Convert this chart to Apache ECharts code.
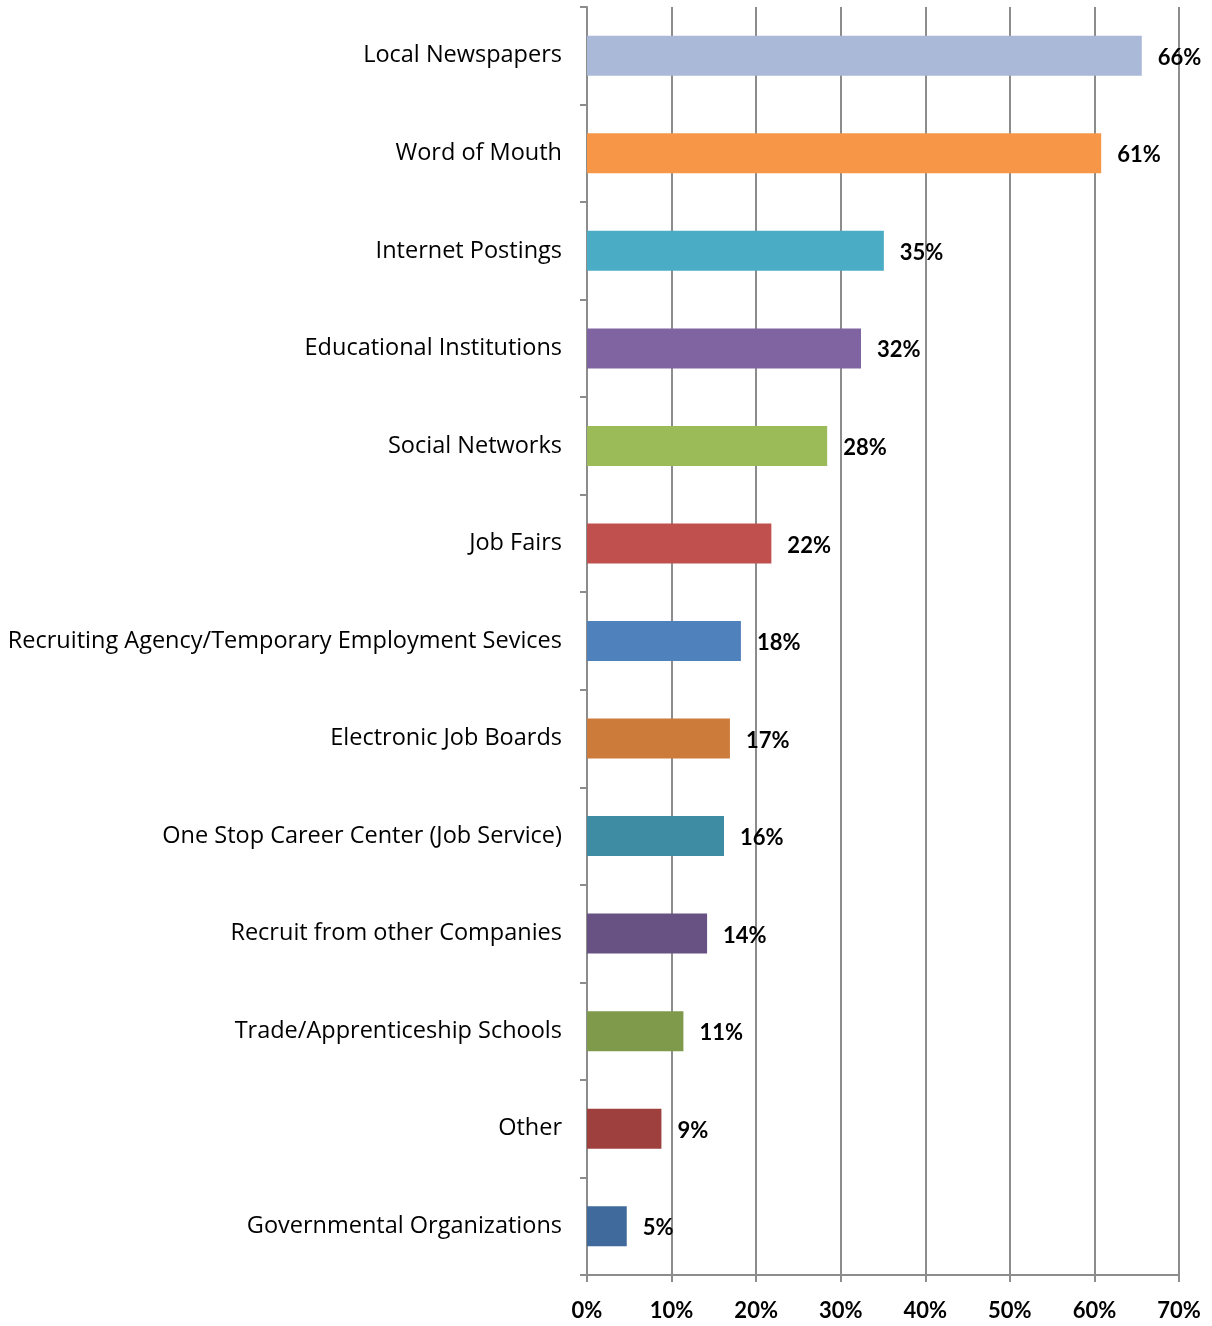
<!DOCTYPE html>
<html>
<head>
<meta charset="utf-8">
<script src="https://cdn.jsdelivr.net/npm/echarts@6/dist/echarts.min.js"></script>
<style>
html,body{margin:0;padding:0;background:#fff;}
#chart{width:1212px;height:1326px;}
</style>
</head>
<body>
<div id="chart"></div>
<script>
const categories = [
  "Local Newspapers",
  "Word of Mouth",
  "Internet Postings",
  "Educational Institutions",
  "Social Networks",
  "Job Fairs",
  "Recruiting Agency/Temporary Employment Sevices",
  "Electronic Job Boards",
  "One Stop Career Center (Job Service)",
  "Recruit from other Companies",
  "Trade/Apprenticeship Schools",
  "Other",
  "Governmental Organizations"
];
const values = [65.6, 60.8, 35.1, 32.4, 28.4, 21.8, 18.2, 16.9, 16.2, 14.2, 11.4, 8.8, 4.7];
const tickLabels = ["0%", "10%", "20%", "30%", "40%", "50%", "60%", "70%"];
const barColors = ["#AAB9D7", "#F79646", "#4BACC6", "#8064A2", "#9BBB59", "#C0504D", "#4F81BD",
                   "#CD7B3A", "#3D8CA3", "#685284", "#7F9A4B", "#9E413E", "#406A9B"];

const FONT = "Lato";
const CAT_FONT = "Open Sans";
const chart = echarts.init(document.getElementById('chart'), null, {renderer: 'canvas'});
chart.setOption({
  animation: false,
  backgroundColor: '#ffffff',
  grid: {left: 587, right: 33, top: 7, bottom: 51, containLabel: false},
  xAxis: {
    type: 'value', min: 0, max: 70, interval: 10,
    axisLine: {show: true, lineStyle: {color: '#8C8C8C', width: 2}},
    axisTick: {show: true, length: 7, lineStyle: {color: '#8C8C8C', width: 2}},
    splitLine: {show: true, lineStyle: {color: '#8C8C8C', width: 2}},
    axisLabel: {
      margin: 25, color: '#000', fontFamily: FONT, fontWeight: 'bold', fontSize: 22,
      formatter: v => tickLabels[Math.round(v / 10)]
    }
  },
  yAxis: {
    type: 'category', data: categories, inverse: true,
    axisLine: {show: true, lineStyle: {color: '#8C8C8C', width: 2}},
    axisTick: {show: true, length: 7, lineStyle: {color: '#8C8C8C', width: 2}},
    axisLabel: {margin: 25, color: '#000', fontFamily: CAT_FONT, fontSize: 23.5, padding: [2, 0, 0, 0]}
  },
  series: [{
    type: 'bar',
    data: values.map((v, i) => ({value: v, itemStyle: {color: barColors[i]}})),
    barWidth: 40,
    label: {
      show: true, position: 'right', distance: 16, offset: [0, 2],
      color: '#000', fontFamily: FONT, fontWeight: 'bold', fontSize: 22,
      formatter: p => Math.round(p.value) + '%'
    }
  }]
});
</script>
</body>
</html>
